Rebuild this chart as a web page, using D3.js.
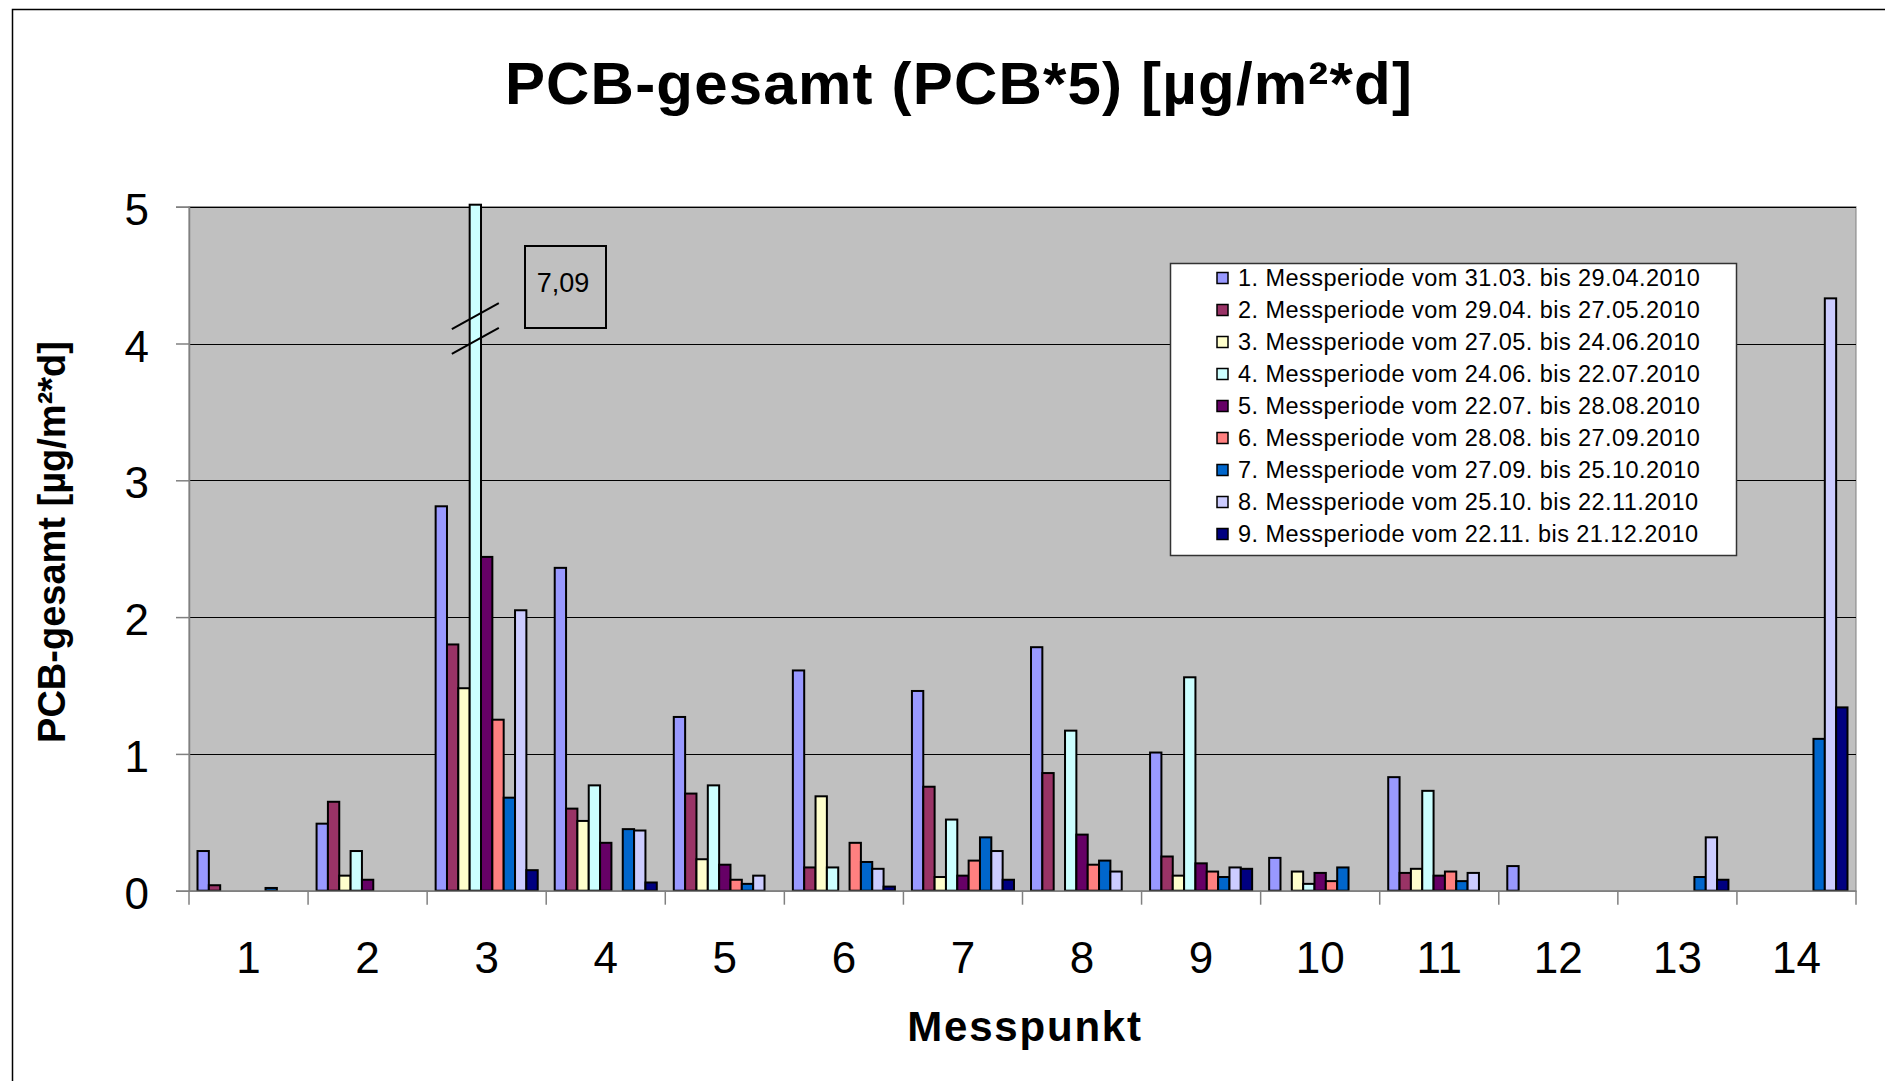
<!DOCTYPE html>
<html>
<head>
<meta charset="utf-8">
<script src="https://cdnjs.cloudflare.com/ajax/libs/d3/7.8.5/d3.min.js"></script>
<style>
  body { margin: 0; background: #fff; }
  svg { display: block; font-family: "Liberation Sans", Arial, sans-serif; }
</style>
</head>
<body>
<div id="chart"></div>
<script>
// categories (Messpunkt) and the 9 measurement periods
const categories = ['1', '2', '3', '4', '5', '6', '7', '8', '9', '10', '11', '12', '13', '14'];

const seriesNames = [
    '1. Messperiode vom 31.03. bis 29.04.2010',
    '2. Messperiode vom 29.04. bis 27.05.2010',
    '3. Messperiode vom 27.05. bis 24.06.2010',
    '4. Messperiode vom 24.06. bis 22.07.2010',
    '5. Messperiode vom 22.07. bis 28.08.2010',
    '6. Messperiode vom 28.08. bis 27.09.2010',
    '7. Messperiode vom 27.09. bis 25.10.2010',
    '8. Messperiode vom 25.10. bis 22.11.2010',
    '9. Messperiode vom 22.11. bis 21.12.2010'
];

const seriesColors = ['#9999FF', '#993366', '#FFFFCC', '#CCFFFF', '#660066',
                      '#FF8080', '#0066CC', '#CCCCFF', '#000080'];

// values per period, one entry per Messpunkt (0 = no bar)
const period1 = [0.29, 0.49, 2.81, 2.36, 1.27, 1.61, 1.46, 1.78, 1.01, 0.24, 0.83, 0.18, 0, 0];
const period2 = [0.04, 0.65, 1.80, 0.60, 0.71, 0.17, 0.76, 0.86, 0.25, 0, 0.13, 0, 0, 0];
const period3 = [0, 0.11, 1.48, 0.51, 0.23, 0.69, 0.10, 0, 0.11, 0.14, 0.16, 0, 0, 0];
const period4 = [0, 0.29, 7.09, 0.77, 0.77, 0.17, 0.52, 1.17, 1.56, 0.05, 0.73, 0, 0, 0];
const period5 = [0, 0.08, 2.44, 0.35, 0.19, 0, 0.11, 0.41, 0.20, 0.13, 0.11, 0, 0, 0];
const period6 = [0, 0, 1.25, 0, 0.08, 0.35, 0.22, 0.19, 0.14, 0.07, 0.14, 0, 0, 0];
const period7 = [0.02, 0, 0.68, 0.45, 0.05, 0.21, 0.39, 0.22, 0.10, 0.17, 0.07, 0, 0.10, 1.11];
const period8 = [0, 0, 2.05, 0.44, 0.11, 0.16, 0.29, 0.14, 0.17, 0, 0.13, 0, 0.39, 4.33];
const period9 = [0, 0, 0.15, 0.06, 0, 0.03, 0.08, 0, 0.16, 0, 0, 0, 0.08, 1.34];

const yTicks = [0, 1, 2, 3, 4, 5];
const brokenLabel = '7,09';

const periods = [period1, period2, period3, period4, period5, period6, period7, period8, period9];

const W = 1885, H = 1081;
const plot = { left: 189, right: 1856, top: 206.7, bottom: 890.7 };

const svg = d3.select('#chart')
    .append('svg')
    .attr('width', W)
    .attr('height', H);

// outer chart frame (cut off at right / bottom)
svg.append('rect')
    .attr('x', 12.5).attr('y', 9.5)
    .attr('width', 2000).attr('height', 2000)
    .attr('fill', '#fff')
    .attr('stroke', '#000')
    .attr('stroke-width', 1.5);

const x0 = d3.scaleBand()
    .domain(categories)
    .range([plot.left, plot.right])
    .padding(0);

const x1 = d3.scaleBand()
    .domain(d3.range(seriesNames.length))
    .range([0, x0.bandwidth()])
    .paddingInner(0)
    .paddingOuter(0.75);

const y = d3.scaleLinear()
    .domain([0, 5])
    .range([plot.bottom, plot.top]);

// plot area
svg.append('rect')
    .attr('x', plot.left).attr('y', plot.top)
    .attr('width', plot.right - plot.left)
    .attr('height', plot.bottom - plot.top)
    .attr('fill', '#C0C0C0')
    .attr('stroke', '#808080')
    .attr('stroke-width', 1);

// gridlines
svg.append('g')
    .selectAll('line')
    .data(yTicks.filter(d => d > 0))
    .enter()
    .append('line')
    .attr('x1', plot.left).attr('x2', plot.right)
    .attr('y1', d => Math.round(y(d)) + 0.5)
    .attr('y2', d => Math.round(y(d)) + 0.5)
    .attr('stroke', '#000')
    .attr('stroke-width', 1);

// bars
const barData = [];
periods.forEach((vals, s) => {
    vals.forEach((v, c) => {
        if (v > 0) barData.push({ s: s, c: categories[c], v: v });
    });
});

svg.append('g')
    .selectAll('rect')
    .data(barData)
    .enter()
    .append('rect')
    .attr('x', d => x0(d.c) + x1(d.s))
    .attr('width', x1.bandwidth())
    .attr('y', d => y(Math.min(d.v, 5)) - (d.v > 5 ? 2 : 0))
    .attr('height', d => y(0) - y(Math.min(d.v, 5)) + (d.v > 5 ? 2 : 0))
    .attr('fill', d => seriesColors[d.s])
    .attr('stroke', '#000')
    .attr('stroke-width', 2);

// break marks on the clipped bar + value box
const broken = barData.find(d => d.v > 5);
const bx = x0(broken.c) + x1(broken.s) + x1.bandwidth() / 2;
[4.2, 4.02].forEach(v => {
    svg.append('line')
        .attr('x1', bx - 23.5).attr('y1', y(v) + 13)
        .attr('x2', bx + 23.5).attr('y2', y(v) - 13)
        .attr('stroke', '#000')
        .attr('stroke-width', 2);
});

svg.append('rect')
    .attr('x', 525).attr('y', 246)
    .attr('width', 81).attr('height', 82)
    .attr('fill', 'none')
    .attr('stroke', '#000')
    .attr('stroke-width', 2);

svg.append('text')
    .attr('x', 563).attr('y', 292)
    .attr('text-anchor', 'middle')
    .style('font-size', '27px')
    .text(brokenLabel);

// y axis
const yAxis = d3.axisLeft(y)
    .tickValues(yTicks)
    .tickSize(13)
    .tickPadding(27)
    .tickFormat(d3.format('d'));

const gy = svg.append('g')
    .attr('transform', `translate(${plot.left}, 0)`)
    .call(yAxis);
gy.select('.domain').attr('stroke', '#808080').attr('stroke-width', 1.5);
gy.selectAll('.tick line').attr('stroke', '#808080').attr('stroke-width', 1.5);
gy.selectAll('.tick text')
    .attr('dy', '0.4em')
    .style('font-size', '44px')
    .style('font-family', '"Liberation Sans", Arial, sans-serif')
    .attr('fill', '#000');

// x axis: line, ticks between categories, labels centred
const xAxis = d3.axisBottom(x0).tickSize(0).tickPadding(0);
const gx = svg.append('g')
    .attr('transform', `translate(0, ${plot.bottom})`)
    .call(xAxis);
gx.select('.domain').attr('stroke', '#808080').attr('stroke-width', 1.5);
gx.selectAll('.tick text')
    .attr('y', 82)
    .attr('dy', 0)
    .style('font-size', '44px')
    .style('font-family', '"Liberation Sans", Arial, sans-serif')
    .attr('fill', '#000');

gx.selectAll('.sep')
    .data(categories.map(c => x0(c)).concat([plot.right]))
    .enter()
    .append('line')
    .attr('class', 'sep')
    .attr('x1', d => d).attr('x2', d => d)
    .attr('y1', 0).attr('y2', 14)
    .attr('stroke', '#808080')
    .attr('stroke-width', 1.5);

// titles
svg.append('text')
    .attr('x', 959).attr('y', 104)
    .attr('text-anchor', 'middle')
    .style('font-size', '60px')
    .style('font-weight', 'bold')
    .style('letter-spacing', '1.2px')
    .text('PCB-gesamt (PCB*5) [µg/m²*d]');

svg.append('text')
    .attr('transform', 'translate(65, 542) rotate(-90)')
    .attr('text-anchor', 'middle')
    .style('font-size', '38px')
    .style('font-weight', 'bold')
    .text('PCB-gesamt [µg/m²*d]');

svg.append('text')
    .attr('x', 1025).attr('y', 1041)
    .attr('text-anchor', 'middle')
    .style('font-size', '42px')
    .style('font-weight', 'bold')
    .style('letter-spacing', '1.8px')
    .text('Messpunkt');

// legend
const legend = svg.append('g');
legend.append('rect')
    .attr('x', 1170.5).attr('y', 263.5)
    .attr('width', 566).attr('height', 292)
    .attr('fill', '#fff')
    .attr('stroke', '#333')
    .attr('stroke-width', 1.5);

const rows = legend.selectAll('.row')
    .data(seriesNames)
    .enter()
    .append('g')
    .attr('class', 'row')
    .attr('transform', (d, i) => `translate(0, ${278 + i * 32})`);

rows.append('rect')
    .attr('x', 1217).attr('y', -5.5)
    .attr('width', 11).attr('height', 11)
    .attr('fill', (d, i) => seriesColors[i])
    .attr('stroke', '#000')
    .attr('stroke-width', 1.5);

rows.append('text')
    .attr('x', 1238).attr('y', 8)
    .style('font-size', '23.5px')
    .style('letter-spacing', '0.45px')
    .text(d => d);
</script>
</body>
</html>
